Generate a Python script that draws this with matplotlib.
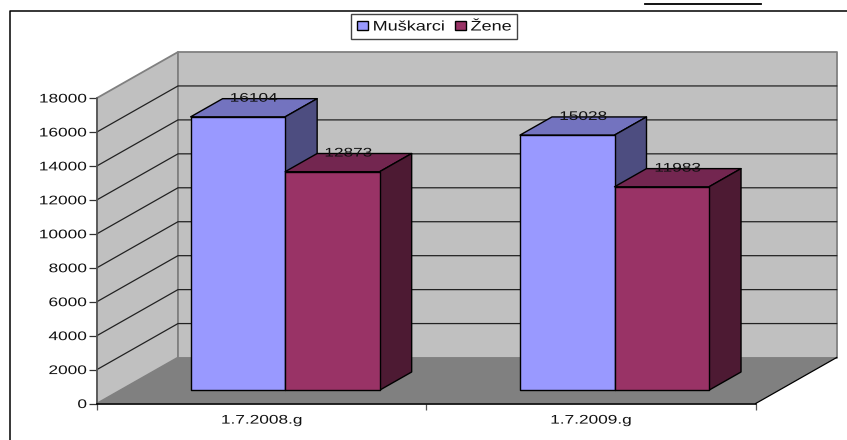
import matplotlib
matplotlib.use("Agg")
import matplotlib.pyplot as plt
from matplotlib.lines import Line2D
from matplotlib.patches import Patch, Polygon, Rectangle
from matplotlib.patheffects import AbstractPathEffect
from matplotlib.transforms import Affine2D

categories = ["1.7.2008.g", "1.7.2009.g"]
muskarci = [16104, 15028]
zene = [12873, 11983]
y_ticks = [0, 2000, 4000, 6000, 8000, 10000, 12000, 14000, 16000, 18000]

W, H = 847, 440
BAR_W = 0.287
DX, DY = 0.2459, 2710      # shift of the full depth, in data units
D0, D1 = 0.29, 0.685       # depth range of the bars
FONT = 9.0
STRETCH = 1.38
LEG_FONT = 10.0
LEG_STRETCH = 1.3


# the source text is wider than any installed font
class Stretch(AbstractPathEffect):
    def __init__(self, k, anchor=0.0):
        super().__init__()
        self.k = k
        self.anchor = anchor

    def draw_path(self, renderer, gc, tpath, affine, rgbFace=None):
        ext = tpath.get_extents()
        x0 = ext.x0 + self.anchor * ext.width
        t = Affine2D().translate(-x0, 0).scale(self.k, 1).translate(x0, 0)
        renderer.draw_path(gc, tpath, t + affine, rgbFace)


def project(x, v, d):
    return x + d * DX, v + d * DY


def face(ax, pts, color, z, edge="black", lw=1.0):
    ax.add_patch(Polygon([project(*p) for p in pts], closed=True, facecolor=color,
                         edgecolor=edge, linewidth=lw, clip_on=False, zorder=z,
                         joinstyle="round"))


def bar3d(ax, x0, x1, v, front, top, side, z):
    face(ax, [(x0, v, D0), (x0, v, D1), (x1, v, D1), (x1, v, D0)], top, z)
    face(ax, [(x1, 0, D0), (x1, 0, D1), (x1, v, D1), (x1, v, D0)], side, z)
    face(ax, [(x0, 0, D0), (x1, 0, D0), (x1, v, D0), (x0, v, D0)], front, z)
    xm = (x0 + x1) / 2
    tx = project(xm, v, (D0 + D1) / 2)[0]
    ty = project(xm, v, D1)[1]
    ax.text(tx, ty, f"{v}", ha="center", va="center", fontsize=FONT, color="#111111",
            clip_on=False, zorder=20, path_effects=[Stretch(STRETCH, 0.5)])


plt.rcParams["font.family"] = ["Liberation Sans", "DejaVu Sans"]
fig = plt.figure(figsize=(W / 100, H / 100), dpi=100)
ax = fig.add_axes([97 / W, (H - 403.5) / H, 658.7 / W, 305.5 / H])
ax.set_xlim(0, 2)
ax.set_ylim(0, 18000)
ax.patch.set_visible(False)
ymax = y_ticks[-1]

# walls and floor
face(ax, [(0, 0, 0), (0, ymax, 0), (0, ymax, 1), (0, 0, 1)], "#c0c0c0", 1, "#808080", 1.3)
face(ax, [(0, 0, 1), (0, ymax, 1), (2, ymax, 1), (2, 0, 1)], "#c0c0c0", 1, "#808080", 1.3)
face(ax, [(0, 0, 0), (2, 0, 0), (2, 0, 1), (0, 0, 1)], "#808080", 1.1, "none", 0)

for v in y_ticks[1:-1]:
    xs, ys = zip(project(0, v, 0), project(0, v, 1), project(2, v, 1))
    ax.plot(xs, ys, color="#222222", lw=0.9, clip_on=False, zorder=1.5)
xs, ys = zip(project(2, 0, 0), project(2, 0, 1))
ax.plot(xs, ys, color="black", lw=0.9, clip_on=False, zorder=1.5)

for i in range(len(categories)):
    c = i + 0.5
    bar3d(ax, c - BAR_W, c, muskarci[i], "#9999ff", "#7373bf", "#4d4d80", 3 + i)
    bar3d(ax, c, c + BAR_W, zene[i], "#993366", "#732650", "#4d1a33", 3.5 + i)

# axes
for s in ["top", "right"]:
    ax.spines[s].set_visible(False)
ax.spines["left"].set_color("#555555")
ax.spines["left"].set_linewidth(1.2)
ax.spines["bottom"].set_color("black")
ax.spines["bottom"].set_linewidth(1.2)
ax.spines["left"].set_zorder(2.5)
ax.spines["bottom"].set_zorder(2.5)

ax.set_yticks(y_ticks)
ax.tick_params(axis="y", length=5.8, width=0.9, pad=1.5, color="#333333", labelsize=FONT,
               labelcolor="#111111")
ax.set_xticks([0, 1, 2], labels=[])
ax.tick_params(axis="x", which="major", length=4, width=0.9, color="#555555")
ax.set_xticks([0.5, 1.5], labels=categories, minor=True)
ax.tick_params(axis="x", which="minor", length=0, pad=8, labelsize=FONT, labelcolor="#111111")
for t in ax.get_yticklabels():
    t.set_path_effects([Stretch(STRETCH, 1.0)])
for t in ax.get_xticklabels(minor=True):
    t.set_path_effects([Stretch(STRETCH, 0.5)])

# legend, its frame is drawn apart since the stretched text is wider than its layout
fig.add_artist(Rectangle((350.7 / W, (H - 38.7) / H), 166.6 / W, 24.7 / H, transform=fig.transFigure,
                         facecolor="white", edgecolor="#444444", linewidth=1.0, zorder=5))
handles = [Patch(facecolor="#9999ff", edgecolor="black", linewidth=1.0),
           Patch(facecolor="#993366", edgecolor="black", linewidth=1.0)]
leg = fig.legend(handles, ["Muškarci", "Žene"], ncol=2, frameon=False, fontsize=LEG_FONT,
                 loc="center left", bbox_to_anchor=(357 / W, (H - 26.5) / H),
                 borderaxespad=0, borderpad=0, handlelength=0.79, handleheight=0.58,
                 handletextpad=0.36, columnspacing=1.87, labelcolor="#111111")
leg.set_zorder(6)
for t in leg.get_texts():
    t.set_path_effects([Stretch(LEG_STRETCH, 0.0)])

# outer frame, open on the right and at the bottom, and the rule cut off above it
fig.add_artist(Line2D([10 / W, 10 / W, 1], [0, (H - 11) / H, (H - 11) / H],
                      transform=fig.transFigure, color="black", lw=1.1))
fig.add_artist(Line2D([645 / W, 761 / W], [(H - 3.7) / H, (H - 3.7) / H],
                      transform=fig.transFigure, color="black", lw=1.3))

fig.savefig("out.png", dpi=100)
